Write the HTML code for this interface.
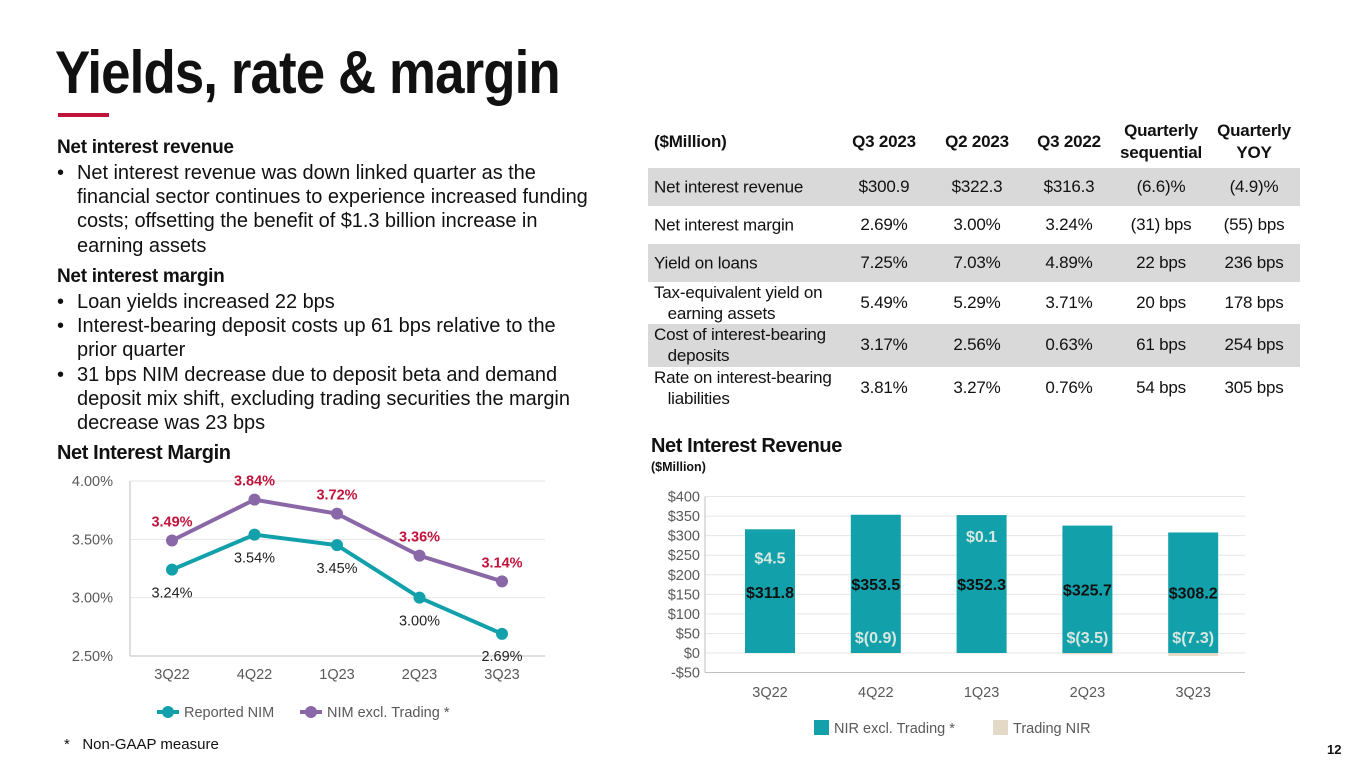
<!DOCTYPE html>
<html><head><meta charset="utf-8">
<style>
body{margin:0;width:1365px;height:769px;background:#fff;position:relative;overflow:hidden;font-family:"Liberation Sans",Arial,sans-serif;color:#111}
.a{position:absolute;white-space:nowrap}
.t{font-size:20px;letter-spacing:-0.05px;line-height:24.2px}
.h{font-weight:bold;font-size:19px;letter-spacing:-0.3px}
.row{position:absolute;left:648px;width:652px}
.s{background:#d9d9d9}
.c{position:absolute;transform:translate(-50%,-50%);white-space:nowrap;text-align:center;font-size:17px;letter-spacing:-0.2px}
.l{position:absolute;left:6px;transform:translateY(-50%);white-space:nowrap;font-size:17px;line-height:21px;letter-spacing:-0.2px}
.hd{font-weight:bold;line-height:22px}
</style></head><body>
<div class="a" style="left:55px;top:38px;font-size:60px;font-weight:bold;letter-spacing:-1px;transform:scaleX(0.88);transform-origin:left top">Yields, rate &amp; margin</div>
<div class="a" style="left:58px;top:113px;width:51px;height:4px;background:#c0143c"></div>

<div class="a h" style="left:57px;top:137px">Net interest revenue</div>
<div class="a t" style="left:57px;top:161px"><span style="position:absolute;left:0">•</span><div style="margin-left:20px">Net interest revenue was down linked quarter as the<br>financial sector continues to experience increased funding<br>costs; offsetting the benefit of $1.3 billion increase in<br>earning assets</div></div>
<div class="a h" style="left:57px;top:266px">Net interest margin</div>
<div class="a t" style="left:57px;top:290px"><div style="margin-left:20px"><span style="position:absolute;left:0">•</span>Loan yields increased 22 bps<br><span style="position:absolute;left:0">•</span>Interest-bearing deposit costs up 61 bps relative to the<br>prior quarter<br><span style="position:absolute;left:0">•</span>31 bps NIM decrease due to deposit beta and demand<br>deposit mix shift, excluding trading securities the margin<br>decrease was 23 bps</div></div>

<div>
<div class="row" style="top:115px;height:53px">
<div class="l hd" style="top:27px">($Million)</div>
<div class="c hd" style="left:236px;top:27px">Q3 2023</div>
<div class="c hd" style="left:329px;top:27px">Q2 2023</div>
<div class="c hd" style="left:421px;top:27px">Q3 2022</div>
<div class="c hd" style="left:513px;top:27px">Quarterly<br>sequential</div>
<div class="c hd" style="left:606px;top:27px">Quarterly<br>YOY</div>
</div>
<div class="row s" style="top:168px;height:38px">
<div class="l" style="top:19px">Net interest revenue</div><div class="c" style="left:236px;top:19px">$300.9</div><div class="c" style="left:329px;top:19px">$322.3</div><div class="c" style="left:421px;top:19px">$316.3</div><div class="c" style="left:513px;top:19px">(6.6)%</div><div class="c" style="left:606px;top:19px">(4.9)%</div></div>
<div class="row" style="top:206px;height:38px">
<div class="l" style="top:19px">Net interest margin</div><div class="c" style="left:236px;top:19px">2.69%</div><div class="c" style="left:329px;top:19px">3.00%</div><div class="c" style="left:421px;top:19px">3.24%</div><div class="c" style="left:513px;top:19px">(31) bps</div><div class="c" style="left:606px;top:19px">(55) bps</div></div>
<div class="row s" style="top:244px;height:38px">
<div class="l" style="top:19px">Yield on loans</div><div class="c" style="left:236px;top:19px">7.25%</div><div class="c" style="left:329px;top:19px">7.03%</div><div class="c" style="left:421px;top:19px">4.89%</div><div class="c" style="left:513px;top:19px">22 bps</div><div class="c" style="left:606px;top:19px">236 bps</div></div>
<div class="row" style="top:282px;height:42px">
<div class="l" style="top:21px">Tax-equivalent yield on<br>&nbsp;&nbsp;&nbsp;earning assets</div><div class="c" style="left:236px;top:21px">5.49%</div><div class="c" style="left:329px;top:21px">5.29%</div><div class="c" style="left:421px;top:21px">3.71%</div><div class="c" style="left:513px;top:21px">20 bps</div><div class="c" style="left:606px;top:21px">178 bps</div></div>
<div class="row s" style="top:324px;height:43px">
<div class="l" style="top:21px">Cost of interest-bearing<br>&nbsp;&nbsp;&nbsp;deposits</div><div class="c" style="left:236px;top:21px">3.17%</div><div class="c" style="left:329px;top:21px">2.56%</div><div class="c" style="left:421px;top:21px">0.63%</div><div class="c" style="left:513px;top:21px">61 bps</div><div class="c" style="left:606px;top:21px">254 bps</div></div>
<div class="row" style="top:367px;height:43px">
<div class="l" style="top:21px">Rate on interest-bearing<br>&nbsp;&nbsp;&nbsp;liabilities</div><div class="c" style="left:236px;top:21px">3.81%</div><div class="c" style="left:329px;top:21px">3.27%</div><div class="c" style="left:421px;top:21px">0.76%</div><div class="c" style="left:513px;top:21px">54 bps</div><div class="c" style="left:606px;top:21px">305 bps</div></div>
</div>

<div class="a" style="left:57px;top:442px;font-size:20px;font-weight:bold;letter-spacing:-0.4px">Net Interest Margin</div>
<div class="a" style="left:651px;top:435px;font-size:20px;font-weight:bold;letter-spacing:-0.4px">Net Interest Revenue</div>
<div class="a" style="left:651px;top:460px;font-size:12.5px;font-weight:bold">($Million)</div>
<div class="a" style="left:64px;top:736px;font-size:15px">*&nbsp;&nbsp;&nbsp;Non-GAAP measure</div>
<div class="a" style="left:1327px;top:742px;font-size:13px;font-weight:bold">12</div>

<svg id="nim" class="a" style="left:0;top:0" width="1365" height="769"></svg>

<script>
const cats=["3Q22","4Q22","1Q23","2Q23","3Q23"];
const reported=[3.24,3.54,3.45,3.00,2.69];
const exTrading=[3.49,3.84,3.72,3.36,3.14];
const nimTicks=[2.5,3.0,3.5,4.0];
const nirExcl=[311.8,353.5,352.3,325.7,308.2];
const nirTrading=[4.5,-0.9,0.1,-3.5,-7.3];
const nirTicks=[-50,0,50,100,150,200,250,300,350,400];
const NS="http://www.w3.org/2000/svg";
const svg=document.getElementById('nim');
function mk(tag,attrs,parent){const e=document.createElementNS(NS,tag);for(const k in attrs)e.setAttribute(k,attrs[k]);(parent||svg).appendChild(e);return e;}
function txt(s,x,y,attrs){const e=mk('text',Object.assign({x:x,y:y,'font-family':'Liberation Sans, Arial, sans-serif'},attrs));e.textContent=s;return e;}
const teal="#12a0ab",purple="#8a67a6",red="#c0143c",gray="#595959";
const lx=i=>172+i*82.5;
const ly=v=>656-(v-2.5)/1.5*175;
nimTicks.forEach(t=>{
  const g=mk('line',{x1:130,x2:545,y1:ly(t),y2:ly(t),stroke:t===2.5?'#bfbfbf':'#e6e6e6','stroke-width':1});
  
  
  const l=txt(t.toFixed(2)+'%',113,ly(t)+5,{'font-size':14.5,fill:gray,'text-anchor':'end'});
  
  
});
mk('line',{x1:130,x2:130,y1:481,y2:656,stroke:'#bfbfbf'});
cats.forEach((c,i)=>{const l=txt(c,lx(i),679,{'font-size':14.5,fill:gray,'text-anchor':'middle'});
  
  });
function series(vals,col,name,labCol,above,bold){
  const p=mk('polyline',{points:vals.map((v,i)=>lx(i)+','+ly(v)).join(' '),fill:'none',stroke:col,'stroke-width':4});
  
  
  vals.forEach((v,i)=>{
    const c=mk('circle',{cx:lx(i),cy:ly(v),r:6,fill:col});
    
    
    const dy=above?-14:(i===4?27:28);
    const l=txt(v.toFixed(2)+'%',lx(i),ly(v)+dy,{'font-size':14.5,fill:labCol,'text-anchor':'middle','font-weight':bold?'bold':'normal'});
    
    
  });
}
series(reported,teal,'reported-nim','#222',false,false);
series(exTrading,purple,'nim-excl-trading',red,true,true);
[[teal,'Reported NIM',157],[purple,'NIM excl. Trading *',300]].forEach(([c,s,x])=>{
  const g=mk('g',{});
  
  
  mk('line',{x1:x,x2:x+22,y1:712,y2:712,stroke:c,'stroke-width':4},g);
  mk('circle',{cx:x+11,cy:712,r:6,fill:c},g);
  g.appendChild(txt(s,x+27,717,{'font-size':14.5,fill:gray}));
});
const bx=i=>770+i*105.8;
const by=v=>653-v*0.3911;
nirTicks.forEach(t=>{
  const g=mk('line',{x1:705,x2:1245,y1:by(t),y2:by(t),stroke:t===-50?'#bfbfbf':'#e6e6e6'});
  
  
  const l=txt((t<0?'-$':'$')+Math.abs(t),700,by(t)+5,{'font-size':14.5,fill:gray,'text-anchor':'end'});
  
  
});
mk('line',{x1:705,x2:705,y1:by(400),y2:by(-50),stroke:'#bfbfbf'});
cats.forEach((c,i)=>{
  const l=txt(c,bx(i),697,{'font-size':14.5,fill:gray,'text-anchor':'middle'});
  
  
  const v=nirExcl[i],tr=nirTrading[i];
  const b=mk('rect',{x:bx(i)-25,y:by(v),width:50,height:by(0)-by(v),fill:teal});
  
  
  let ty,th;
  if(tr>=0){ty=by(v+tr);th=by(v)-by(v+tr);}else{ty=by(0);th=by(tr)-by(0);}
  const t=mk('rect',{x:bx(i)-25,y:ty,width:50,height:Math.max(th,0.5),fill:tr>=0?teal:'#e3d9c6'});
  
  
  const vl=txt('$'+v.toFixed(1),bx(i),by(v/2)+6,{'font-size':16,'font-weight':'bold',fill:'#111','text-anchor':'middle'});
  
  
  const ts=tr>=0?'$'+tr.toFixed(1):'$('+Math.abs(tr).toFixed(1)+')';
  const tyy=tr>=0?by(v+tr)+(i===0?34:27):643;
  const tl=txt(ts,bx(i),tyy,{'font-size':16,'font-weight':'bold',fill:'#d8e8e0','text-anchor':'middle'});
  
  
});
[[teal,'NIR excl. Trading *',814],['#e3d9c6','Trading NIR',993]].forEach(([c,s,x])=>{
  const g=mk('g',{});
  
  
  mk('rect',{x:x,y:720,width:15,height:15,fill:c},g);
  g.appendChild(txt(s,x+20,733,{'font-size':14.5,fill:gray}));
});
</script>
</body></html>
